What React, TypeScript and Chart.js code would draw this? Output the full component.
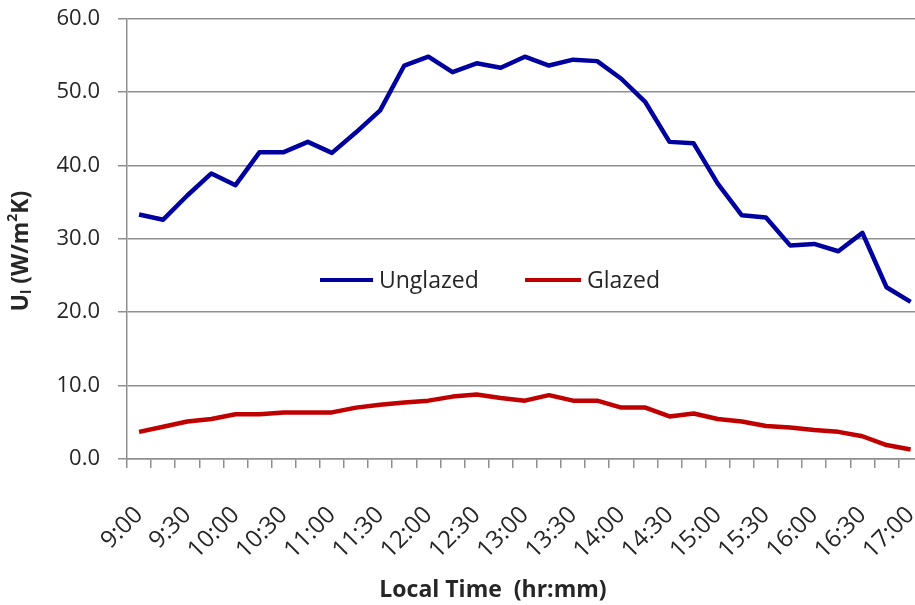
import React, { useEffect, useRef } from 'react';
import { Chart, registerables } from 'chart.js';

Chart.register(...registerables);

const timeLabels = [
  '9:00', '9:15', '9:30', '9:45', '10:00', '10:15', '10:30', '10:45', '11:00', '11:15', '11:30',
  '11:45', '12:00', '12:15', '12:30', '12:45', '13:00', '13:15', '13:30', '13:45', '14:00', '14:15',
  '14:30', '14:45', '15:00', '15:15', '15:30', '15:45', '16:00', '16:15', '16:30', '16:45', '17:00',
];

const unglazed = [
  33.3, 32.6, 35.9, 38.9, 37.3, 41.8, 41.8, 43.2, 41.7, 44.5, 47.5,
  53.6, 54.8, 52.7, 53.9, 53.3, 54.8, 53.6, 54.4, 54.2, 51.8, 48.6,
  43.2, 43.0, 37.5, 33.2, 32.9, 29.1, 29.3, 28.3, 30.8, 23.4, 21.4,
];

const glazed = [
  3.7, 4.4, 5.1, 5.45, 6.1, 6.1, 6.35, 6.35, 6.35, 7.0, 7.4,
  7.7, 7.95, 8.5, 8.8, 8.3, 7.95, 8.7, 7.95, 7.95, 7.0, 7.0,
  5.8, 6.2, 5.45, 5.1, 4.5, 4.3, 3.95, 3.7, 3.1, 1.9, 1.3,
];

const seriesNames = ['Unglazed', 'Glazed'];
const seriesColors = ['#0000a0', '#c00000'];

const yMin = 0;
const yMax = 60;
const yStep = 10;

const xTitle = 'Local Time  (hr:mm)';

const FONT = "'Open Sans', sans-serif";
const TEXT = '#262626';
const GRID = '#8f8f8f';

const overlayPlugin = {
  id: 'overlay',
  afterDraw(chart: any) {
    const ctx = chart.ctx as CanvasRenderingContext2D;
    ctx.save();
    // legend inside plot
    const legendPos = [
      { x1: 320, x2: 373, tx: 379 },
      { x1: 525, x2: 581, tx: 587 },
    ];
    const ly = 280;
    chart.data.datasets.forEach((ds: any, i: number) => {
      const p = legendPos[i];
      ctx.strokeStyle = ds.borderColor;
      ctx.lineWidth = 4;
      ctx.beginPath();
      ctx.moveTo(p.x1, ly);
      ctx.lineTo(p.x2, ly);
      ctx.stroke();
      ctx.fillStyle = TEXT;
      ctx.font = `23px ${FONT}`;
      ctx.textAlign = 'left';
      ctx.textBaseline = 'middle';
      ctx.fillText(ds.label, p.tx, ly + 1);
    });

    // x title
    ctx.fillStyle = TEXT;
    ctx.font = `bold 23px ${FONT}`;
    ctx.textAlign = 'center';
    ctx.textBaseline = 'middle';
    ctx.fillText(xTitle, 493, 590);

    // y title with sub/superscript
    const segs = [
      { t: 'U', s: 23, dy: 0 },
      { t: 'l', s: 14, dy: 6 },
      { t: ' (W/m', s: 23, dy: 0 },
      { t: '2', s: 14, dy: -8 },
      { t: 'K)', s: 23, dy: 0 },
    ];
    let total = 0;
    const widths = segs.map((sg) => {
      ctx.font = `bold ${sg.s}px ${FONT}`;
      const w = ctx.measureText(sg.t).width;
      total += w;
      return w;
    });
    ctx.translate(21, 251);
    ctx.rotate(-Math.PI / 2);
    ctx.textAlign = 'left';
    ctx.textBaseline = 'middle';
    let cx = -total / 2;
    segs.forEach((sg, i) => {
      ctx.font = `bold ${sg.s}px ${FONT}`;
      ctx.fillText(sg.t, cx, sg.dy);
      cx += widths[i];
    });
    ctx.restore();
  },
};

export default function App() {
  const canvasRef = useRef<HTMLCanvasElement | null>(null);

  useEffect(() => {
    const canvas = canvasRef.current;
    if (!canvas) return;
    const chart = new Chart(canvas, {
      type: 'line',
      data: {
        labels: timeLabels,
        datasets: [
          {
            label: seriesNames[0],
            data: unglazed,
            borderColor: seriesColors[0],
            backgroundColor: seriesColors[0],
            borderWidth: 4.5,
            pointRadius: 0,
            tension: 0,
            borderJoinStyle: 'round',
          },
          {
            label: seriesNames[1],
            data: glazed,
            borderColor: seriesColors[1],
            backgroundColor: seriesColors[1],
            borderWidth: 4.5,
            pointRadius: 0,
            tension: 0,
            borderJoinStyle: 'round',
          },
        ],
      },
      options: {
        animation: false,
        responsive: true,
        maintainAspectRatio: false,
        layout: { padding: { left: 0, top: 18.5, right: 0, bottom: 0 } },
        plugins: {
          legend: { display: false },
          tooltip: { enabled: false },
          title: { display: false },
        },
        scales: {
          x: {
            type: 'category',
            offset: true,
            grid: {
              display: true,
              drawOnChartArea: false,
              drawTicks: true,
              tickLength: 9,
              offset: true,
              color: GRID,
              lineWidth: 1.5,
            },
            border: { display: true, color: GRID, width: 1.5 },
            ticks: {
              autoSkip: false,
              minRotation: 45,
              maxRotation: 45,
              padding: 33,
              color: TEXT,
              font: { family: FONT, size: 24 },
              callback: (_v: any, i: number) => (i % 2 === 0 ? timeLabels[i] : ''),
            },
            afterFit: (scale: any) => {
              scale.height = 146;
            },
          },
          y: {
            min: yMin,
            max: yMax,
            grid: {
              color: GRID,
              lineWidth: 1.5,
              drawTicks: true,
              tickLength: 9,
            },
            border: { display: true, color: GRID, width: 1.5 },
            ticks: {
              stepSize: yStep,
              padding: 18,
              color: TEXT,
              font: { family: FONT, size: 22, lineHeight: 0.05 },
              callback: (v: any) => Number(v).toFixed(1),
            },
            afterFit: (scale: any) => {
              scale.width = 127;
            },
          },
        },
      },
      plugins: [overlayPlugin],
    });
    return () => chart.destroy();
  }, []);

  return (
    <div style={{ position: 'fixed', left: 0, top: 0, width: 915, height: 605, overflow: 'hidden', background: '#fff' }}>
      <div style={{ position: 'relative', width: 964, height: 605 }}>
        <canvas ref={canvasRef} />
      </div>
    </div>
  );
}
